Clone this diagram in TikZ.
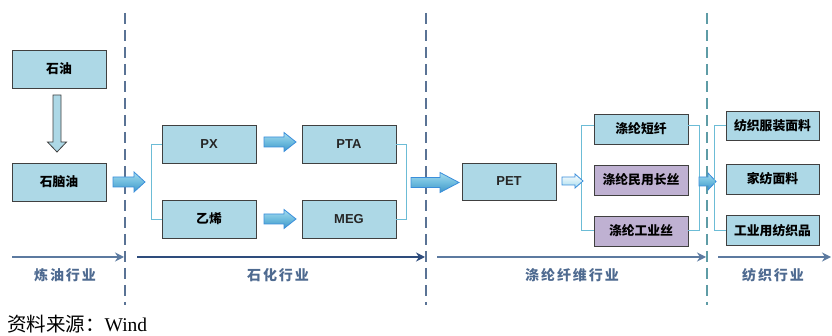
\documentclass[tikz,border=0pt]{standalone}
\usepackage{fontspec}
\setmainfont{Liberation Serif}
\newfontfamily\cjk{Noto Sans CJK SC}
\newfontfamily\cjkwide{Noto Sans CJK SC}[LetterSpace=14]
\newfontfamily\latinsans{Liberation Sans}
\usetikzlibrary{arrows.meta}

\definecolor{boxblue}{HTML}{ADD8E6}
\definecolor{boxpurple}{HTML}{BFB1D2}
\definecolor{boxline}{HTML}{404040}
\definecolor{bracket}{HTML}{6CBCD6}
\definecolor{arrtop}{HTML}{A6DCEE}
\definecolor{arrmid}{HTML}{6EBCDE}
\definecolor{arrbot}{HTML}{3F96C8}
\definecolor{arrline}{HTML}{3A8EDB}
\definecolor{sepblue}{HTML}{5A7395}
\definecolor{septeal}{HTML}{5E9CA6}
\definecolor{axislight}{HTML}{5C7AA0}
\definecolor{axisdark}{HTML}{2E4C7C}
\definecolor{labeltext}{HTML}{4E6A90}

% block arrow: style, x start, x end, y, shaft half height, head half height, head length
\newcommand\flowarrow[7]{%
  \path[#1] (#2,{#4-#5}) -- ({#3-#7},{#4-#5}) -- ({#3-#7},{#4-#6}) -- (#3,#4)
    -- ({#3-#7},{#4+#6}) -- ({#3-#7},{#4+#5}) -- (#2,{#4+#5}) -- cycle;}

\tikzset{
  box/.style={draw=boxline, line width=0.9pt, fill=boxblue, minimum width=94pt,
    minimum height=38pt, inner sep=0pt, font=\cjk\bfseries\fontsize{12.8}{14}\selectfont},
  latinbox/.style={box, font=\latinsans\bfseries\fontsize{13}{15}\selectfont, text=black!85},
  thinbox/.style={box, minimum height=30pt},
  purplebox/.style={thinbox, fill=boxpurple},
  linkline/.style={draw=bracket, line width=0.8pt},
  bluearrow/.style={draw=arrline, line width=0.8pt, top color=arrtop, bottom color=arrbot, middle color=arrmid},
  palearrow/.style={draw=arrline, line width=0.8pt, top color=white, bottom color=arrtop},
  separator/.style={line width=1.8pt, dash pattern=on 11pt off 6pt},
  axis/.style={line width=1.6pt, -{Stealth[length=9pt,width=9pt]}},
  sector/.style={text=labeltext, font=\cjkwide\bfseries\fontsize{14}{16}\selectfont}
}

\begin{document}
\begin{tikzpicture}[x=1pt, y=-1pt]
  \useasboundingbox (0,0) rectangle (832,336);

  % industry separators
  \draw[separator, sepblue] (125,13) -- (125,305);
  \draw[separator, sepblue] (426,13) -- (426,305);
  \draw[separator, septeal] (707,13) -- (707,305);

  % refining
  \node[box] (oil) at (59,69) {石油};
  \node[box] (naph) at (59,182) {石脑油};
  \path[draw=boxline, line width=0.8pt, fill=boxblue]
    (53,95) -- (61,95) -- (61,142) -- (66.5,142) -- (57,152) -- (47.5,142) -- (53,142) -- cycle;

  % petrochemicals
  \node[latinbox] (px) at (209,144) {PX};
  \node[box] (eth) at (209,219) {乙烯};
  \node[latinbox] (pta) at (349,144) {PTA};
  \node[latinbox] (meg) at (349,219) {MEG};
  \draw[linkline] (px.west) -- ++(-10,0) |- (eth.west);
  \draw[linkline] (pta.east) -- ++(10,0) |- (meg.east);
  \flowarrow{bluearrow}{113}{145}{182}{5}{10}{11}
  \flowarrow{bluearrow}{264}{296}{142}{5}{9.5}{12}
  \flowarrow{bluearrow}{264}{296}{219}{5}{9.5}{12}
  \flowarrow{bluearrow}{411}{459}{182.5}{5}{10}{19}

  % polyester fibre
  \node[latinbox, minimum height=37pt] (pet) at (509,181.5) {PET};
  \node[thinbox] (psf) at (641,129) {涤纶短纤};
  \node[purplebox] (fdy) at (641,180) {涤纶民用长丝};
  \node[purplebox] (ind) at (641,231) {涤纶工业丝};
  \draw[linkline] ([yshift=4pt]psf.west) -- ++(-12,0) |- ([yshift=1pt]ind.west);
  \draw[linkline] ([yshift=4pt]psf.east) -- ++(11,0) |- ([yshift=1pt]ind.east);
  \flowarrow{palearrow}{562}{583}{181}{4}{7}{8}
  \flowarrow{bluearrow}{699}{716}{181.5}{4.5}{8.5}{8}

  % textiles
  \node[thinbox, minimum height=29pt, minimum width=93pt] (cloth) at (772.5,125.5) {纺织服装面料};
  \node[thinbox, minimum width=93pt] (home) at (772.5,179) {家纺面料};
  \node[thinbox, minimum width=93pt] (tech) at (772.5,230.5) {工业用纺织品};
  \draw[linkline] (cloth.west) -- ++(-11,0) |- (tech.west);

  % sector axis
  \coordinate (a0) at (12,257);   \coordinate (a1) at (124,257);
  \coordinate (b0) at (137,257);  \coordinate (b1) at (425,257);
  \coordinate (c0) at (437,257);  \coordinate (c1) at (706,257);
  \coordinate (d0) at (718,257);  \coordinate (d1) at (831,257);
  \draw[axis, axislight] (a0) -- (a1);
  \draw[axis, axisdark, line width=2.2pt] (b0) -- (b1);
  \draw[axis, axislight] (c0) -- (c1);
  \draw[axis, axislight] (d0) -- (d1);
  \node[sector] (s1) at (65,275) {炼油行业};
  \node[sector] (s2) at (278,275) {石化行业};
  \node[sector] (s3) at (572,275) {涤纶纤维行业};
  \node[sector] (s4) at (773,275) {纺织行业};

  % source
  \node[anchor=west, inner sep=0pt, font=\fontsize{19.5}{22}\selectfont] (src) at (7,324) {{\cjk 资料来源：}Wind};
\end{tikzpicture}
\end{document}
